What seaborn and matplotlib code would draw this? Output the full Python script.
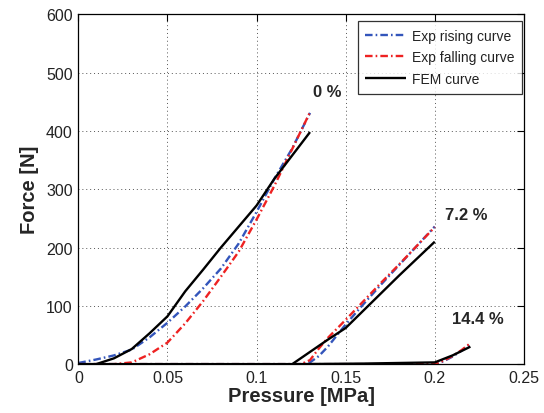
import matplotlib
matplotlib.use("Agg")
import matplotlib.pyplot as plt
import seaborn as sns
import numpy as np
import pandas as pd

# ---- data ----
# 0 % pre-strain
fem0_x = [0, 0.01, 0.02, 0.03, 0.04, 0.05, 0.06, 0.07, 0.08, 0.09, 0.10, 0.11, 0.12, 0.13]
fem0_y = [0, 0, 10, 26, 53, 82, 125, 162, 200, 236, 272, 318, 358, 398]
rise0_x = [0, 0.01, 0.02, 0.03, 0.04, 0.05, 0.06, 0.07, 0.08, 0.09, 0.10, 0.11, 0.12, 0.13]
rise0_y = [2, 8, 15, 25, 46, 71, 99, 130, 164, 207, 261, 318, 370, 431]
fall0_x = [0, 0.02, 0.03, 0.04, 0.05, 0.06, 0.07, 0.08, 0.09, 0.10, 0.11, 0.12, 0.13]
fall0_y = [0, 0, 3, 17, 37, 70, 108, 150, 193, 248, 306, 369, 432]
# 7.2 % pre-strain
fem7_x = [0, 0.12, 0.13, 0.14, 0.15, 0.16, 0.17, 0.18, 0.19, 0.20]
fem7_y = [0, 0, 21, 42, 62, 92, 122, 152, 181, 210]
rise7_x = [0, 0.125, 0.13, 0.135, 0.14, 0.15, 0.16, 0.17, 0.18, 0.19, 0.20]
rise7_y = [0, 0, 3, 14, 30, 68, 103, 137, 170, 203, 236]
fall7_x = [0, 0.125, 0.13, 0.135, 0.14, 0.15, 0.16, 0.17, 0.18, 0.19, 0.20]
fall7_y = [0, 0, 7, 27, 45, 76, 108, 140, 171, 203, 235]
# 14.4 % pre-strain
fem14_x = [0, 0.12, 0.16, 0.18, 0.20, 0.21, 0.22]
fem14_y = [0, 0, 1, 2, 3, 15, 30]
rise14_x = [0, 0.20, 0.205, 0.21, 0.215, 0.22]
rise14_y = [0, 0, 5, 13, 23, 34]
fall14_x = [0, 0.20, 0.205, 0.21, 0.215, 0.22]
fall14_y = [0, 0, 6, 14, 24, 36]

labels_txt = ["0 %", "7.2 %", "14.4 %"]
labels_x = [0.1316, 0.2055, 0.2097]
labels_y = [467, 256, 78]

sns.set_style("white")
plt.rcParams['font.family'] = ['Liberation Sans', 'DejaVu Sans']

fig = plt.figure(figsize=(5.44, 4.14), dpi=100)
ax = fig.add_axes([0.144, 0.118, 0.819, 0.845])

blue = "#3355bb"
red = "#ee2222"
dd = (3.2, 1.3, 0.7, 1.3)

series = [
    (rise0_x, rise0_y, rise7_x, rise7_y, rise14_x, rise14_y, blue, dd, "Exp rising curve"),
    (fall0_x, fall0_y, fall7_x, fall7_y, fall14_x, fall14_y, red, dd, "Exp falling curve"),
    (fem0_x, fem0_y, fem7_x, fem7_y, fem14_x, fem14_y, "black", None, "FEM curve"),
]

for x0, y0, x7, y7, x14, y14, col, dash, lab in series:
    for i, (xx, yy) in enumerate([(x0, y0), (x7, y7), (x14, y14)]):
        df = pd.DataFrame({"x": xx, "y": yy})
        sns.lineplot(data=df, x="x", y="y", ax=ax, color=col, linewidth=1.7,
                     sort=False, estimator=None,
                     label=lab if i == 0 else None, legend=False)
        ln = ax.lines[-1]
        if dash is not None:
            ln.set_dashes(dash)
        ln.set_solid_capstyle("butt")

for t, x, y in zip(labels_txt, labels_x, labels_y):
    ax.text(x, y, t, fontsize=12, fontweight="bold", ha="left", va="center")

ax.set_xlim(0, 0.25)
ax.set_ylim(0, 600)
ax.set_xticks([0, 0.05, 0.1, 0.15, 0.2, 0.25])
ax.set_xticklabels(["0", "0.05", "0.1", "0.15", "0.2", "0.25"])
ax.set_yticks([0, 100, 200, 300, 400, 500, 600])
ax.tick_params(direction="in", top=True, right=True, length=5, width=0.8,
               labelsize=11.5, colors="black", labelcolor="#222222", pad=4)
ax.grid(True, linestyle=(0, (1, 3)), color="#555555", linewidth=0.7)
for s in ax.spines.values():
    s.set_color("black")
    s.set_linewidth(0.9)

ax.set_xlabel("Pressure [MPa]", fontsize=14.5, fontweight="bold", labelpad=1)
ax.set_ylabel("Force [N]", fontsize=14.5, fontweight="bold", labelpad=5)

leg = ax.legend(loc="upper right", bbox_to_anchor=(0.996, 0.981), fontsize=10,
                frameon=True, fancybox=False, edgecolor="black",
                handlelength=2.9, borderpad=0.55, labelspacing=0.55,
                handletextpad=0.45, borderaxespad=0.0)
leg.get_frame().set_linewidth(0.9)
for t in leg.get_texts():
    t.set_color("#222222")

fig.savefig("out.png", dpi=100)
